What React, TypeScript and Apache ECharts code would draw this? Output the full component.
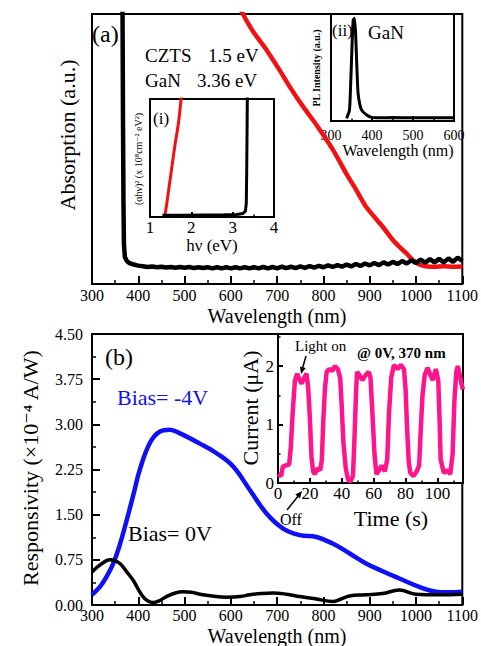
import React, { useEffect, useRef } from "react";
import * as echarts from "echarts";

// ---------- data ----------
// (a) absorption, wavelength (nm) vs absorption (a.u., 0-100 scale)
const ganAbs: number[][] = [
  [364, 110], [366, 100], [367, 60], [368, 30], [369, 15], [371, 10], [375, 8.6], [380, 7.8], [390, 7.2], [400, 6.8],
  [410, 6.6], [420, 6.3], [430, 6.5], [440, 6.2], [450, 6.4], [460, 6.1], [470, 6.3], [480, 6.0], [490, 6.3], [500, 6.0],
  [510, 6.3], [520, 5.9], [530, 6.2], [540, 5.9], [550, 6.2], [560, 5.8], [570, 6.2], [580, 5.8], [590, 6.2], [600, 5.8],
  [610, 6.2], [620, 5.8], [630, 6.2], [640, 5.8], [650, 6.2], [660, 5.8], [670, 6.3], [680, 5.8], [690, 6.3], [700, 5.8],
  [710, 6.4], [720, 5.9], [730, 6.4], [740, 5.9], [750, 6.5], [760, 6.0], [770, 6.6], [780, 6.1], [790, 6.7], [800, 6.2],
  [810, 6.9], [820, 6.3], [830, 7.0], [840, 6.4], [850, 7.2], [860, 6.5], [870, 7.4], [880, 6.7], [890, 7.6], [900, 6.9],
  [910, 7.8], [920, 7.0], [930, 8.0], [940, 7.2], [950, 8.2], [960, 7.4], [970, 8.5], [980, 7.6], [990, 8.8], [1000, 7.8],
  [1010, 9.0], [1020, 7.9], [1030, 9.2], [1040, 8.0], [1050, 9.3], [1060, 8.0], [1070, 9.5], [1080, 8.2], [1090, 9.8], [1100, 8.5],
];
const cztsAbs: number[][] = [
  [615, 104], [626, 100], [648, 93.5], [677, 86.7], [705, 79.3], [727, 73.1], [756, 65.7], [785, 58.9], [821, 49.6],
  [849, 41], [871, 34.8], [892, 28.6], [928, 21.2], [950, 16.3], [964, 13.8], [979, 11.4], [993, 8.9], [1007, 7.2],
  [1020, 6.6], [1040, 6.4], [1060, 6.6], [1080, 6.4], [1100, 6.5],
];
// inset (i) Tauc plot, hv (eV) vs (ahv)^2 (0-100 scale)
const cztsTauc: number[][] = [[1.36, 1.5], [1.40, 10], [1.44, 20], [1.52, 40], [1.60, 60], [1.69, 80], [1.75, 99], [1.77, 105]];
const ganTauc: number[][] = [
  [1.3, 1.5], [1.8, 1.5], [2.3, 1.8], [2.8, 2], [3.1, 2.2], [3.25, 3], [3.31, 5], [3.33, 12], [3.34, 40], [3.35, 80], [3.355, 105],
];
// inset (ii) PL of GaN
const ganPL: number[][] = [
  [338, 2.5], [345, 10], [348, 35], [351, 67], [354, 94], [357, 96], [360, 82], [363, 51], [366, 26], [370, 16],
  [375, 10], [387, 5.6], [399, 3.4], [420, 3], [450, 3.2], [500, 3], [550, 3], [600, 3],
];
// (b) responsivity (x1e-4 A/W)
const respBiasM4: number[][] = [
  [300, 0.17], [317, 0.30], [330, 0.45], [346, 0.69], [360, 1.0], [375, 1.41], [390, 1.85], [403, 2.24], [425, 2.69],
  [447, 2.88], [468, 2.91], [490, 2.85], [533, 2.68], [569, 2.52], [605, 2.30], [641, 1.91], [677, 1.52], [713, 1.27],
  [749, 1.16], [785, 1.13], [820, 1.02], [856, 0.86], [892, 0.69], [928, 0.56], [964, 0.44], [1007, 0.30], [1043, 0.22],
  [1070, 0.21], [1100, 0.22],
];
const respBias0: number[][] = [
  [300, 0.55], [320, 0.68], [339, 0.75], [360, 0.69], [375, 0.55], [389, 0.41], [400, 0.26], [410, 0.14], [420, 0.07],
  [432, 0.04], [445, 0.07], [461, 0.14], [480, 0.2], [497, 0.22], [515, 0.21], [533, 0.18], [560, 0.15], [590, 0.13],
  [620, 0.14], [641, 0.17], [665, 0.19], [691, 0.20], [720, 0.18], [749, 0.14], [785, 0.10], [820, 0.06], [838, 0.10],
  [856, 0.15], [890, 0.17], [928, 0.19], [964, 0.25], [1000, 0.18], [1050, 0.17], [1100, 0.18],
];
// inset current vs time (s, uA)
const currentT: number[][] = [
  [0, 0.15], [2, 0.12], [3, 0.28], [5, 0.3], [7, 0.32], [8, 0.6], [9.2, 1.2], [10.6, 1.75], [12, 1.87], [13, 1.8],
  [14.8, 1.7], [16, 1.78], [17.9, 1.87], [19, 1.6], [20, 1.1], [21, 0.45], [22, 0.2], [23, 0.15], [25, 0.25], [26.5, 0.22],
  [27.5, 0.4], [28.3, 1.0], [29.4, 1.6], [30.5, 1.9], [32, 1.95], [34, 1.92], [35.6, 2.0], [37.5, 1.95], [39, 1.8],
  [39.8, 1.4], [41, 0.7], [42.5, 0.25], [44, 0.05], [45.5, 0.03], [47, 0.12], [48, 0.8], [49, 1.6], [49.6, 1.9], [51, 1.85],
  [53, 1.76], [55, 1.85], [57, 1.9], [58, 1.8], [59, 1.3], [60.5, 0.5], [61.7, 0.15], [63, 0.2], [65, 0.3], [67, 0.2],
  [68.5, 0.4], [69.6, 1.2], [71, 1.8], [72.7, 2.02], [75, 1.95], [77, 2.02], [79, 1.95], [80, 1.6], [81, 0.9], [82, 0.35],
  [83, 0.17], [85, 0.12], [87, 0.2], [88.5, 0.3], [89.5, 0.9], [90.6, 1.5], [92, 1.85], [93.8, 1.97], [95.5, 1.85],
  [97, 1.76], [99, 1.95], [100.5, 1.75], [101.3, 1.1], [102, 0.4], [104, 0.17], [106, 0.22], [108, 0.15], [109.5, 0.5],
  [110.6, 1.4], [111.8, 1.9], [112.7, 2.0], [114, 1.85], [115, 1.7], [116, 1.6],
];

const SERIF = "'Liberation Serif', 'Times New Roman', 'DejaVu Serif', serif";

function ax(gridIndex: number, min: number, max: number, interval: number, fontSize: number, margin: number, tickLen: number, fmt: (v: number) => string, showMax = true) {
  return {
    type: "value", gridIndex, min, max, interval,
    axisLine: { show: false },
    axisTick: { show: true, inside: true, length: tickLen, lineStyle: { color: "#000", width: 2 } },
    minorTick: { show: true, splitNumber: 2, length: tickLen / 2, lineStyle: { color: "#000", width: 1.5 } },
    splitLine: { show: false },
    axisLabel: { show: true, fontFamily: SERIF, fontSize, color: "#000", margin, formatter: fmt, hideOverlap: false, showMaxLabel: showMax, showMinLabel: true },
  };
}

const intFmt = (v: number) => String(v);

function txt(text: string, x: number, y: number, fontSize: number, opts: any = {}) {
  return {
    type: "text", x, y, rotation: opts.rotation || 0, z: 100,
    style: {
      text, fontSize, fontFamily: SERIF, fontWeight: opts.fontWeight || "normal",
      fill: opts.fill || "#000",
      align: opts.align || "left", verticalAlign: "middle",
      textAlign: opts.align || "left", textVerticalAlign: "middle",
    },
  };
}

export default function App() {
  const ref = useRef<HTMLDivElement>(null);
  useEffect(() => {
    const chart = echarts.init(ref.current!, null, { renderer: "svg" });
    const gridBase = { show: true, borderColor: "#000", borderWidth: 2, containLabel: false };
    const hiddenY = (gridIndex: number) => ({ type: "value", gridIndex, min: 0, max: 100, axisLine: { show: false }, axisTick: { show: false }, axisLabel: { show: false }, splitLine: { show: false } });
    const option: any = {
      animation: false,
      backgroundColor: "#fff",
      textStyle: { fontFamily: SERIF },
      grid: [
        { ...gridBase, left: 92, top: 14, width: 371, height: 270, backgroundColor: "transparent" },
        { ...gridBase, left: 150, top: 99, width: 124, height: 118, backgroundColor: "#fff" },
        { ...gridBase, left: 331, top: 14, width: 123, height: 107, backgroundColor: "#fff" },
        { ...gridBase, left: 92, top: 334, width: 371, height: 271, backgroundColor: "transparent" },
        { ...gridBase, left: 278, top: 334, width: 185, height: 149, backgroundColor: "#fff" },
      ],
      xAxis: [
        ax(0, 300, 1100, 100, 16, 3, 8, intFmt),
        ax(1, 1, 4, 1, 17, 2, 5, intFmt),
        ax(2, 300, 600, 100, 14, 7, 5, intFmt),
        ax(3, 300, 1100, 100, 16, 2, 8, intFmt),
        ax(4, 0, 116, 20, 17, 2, 5, intFmt, false),
      ],
      yAxis: [
        hiddenY(0),
        hiddenY(1),
        hiddenY(2),
        ax(3, 0, 4.5, 0.75, 16, 9, 8, (v: number) => v.toFixed(2)),
        ax(4, 0, 2.55, 1, 17, 4, 5, intFmt, false),
      ],
      series: [
        { type: "line", xAxisIndex: 0, yAxisIndex: 0, data: cztsAbs, showSymbol: false, smooth: 0.2, lineStyle: { color: "#f21010", width: 4.5 }, z: 3 },
        { type: "line", xAxisIndex: 0, yAxisIndex: 0, data: ganAbs, showSymbol: false, lineStyle: { color: "#000", width: 4.5 }, z: 4 },
        { type: "line", xAxisIndex: 1, yAxisIndex: 1, data: cztsTauc, showSymbol: false, smooth: 0.3, lineStyle: { color: "#f21010", width: 3 } },
        { type: "line", xAxisIndex: 1, yAxisIndex: 1, data: ganTauc, showSymbol: false, lineStyle: { color: "#000", width: 3 } },
        { type: "line", xAxisIndex: 2, yAxisIndex: 2, data: ganPL, showSymbol: false, smooth: 0.2, lineStyle: { color: "#000", width: 3 } },
        { type: "line", xAxisIndex: 3, yAxisIndex: 3, data: respBiasM4, showSymbol: false, smooth: 0.4, lineStyle: { color: "#1010f5", width: 4.5 } },
        { type: "line", xAxisIndex: 3, yAxisIndex: 3, data: respBias0, showSymbol: false, smooth: 0.4, lineStyle: { color: "#000", width: 3.5 } },
        { type: "line", xAxisIndex: 4, yAxisIndex: 4, data: currentT, showSymbol: false, lineStyle: { color: "#ff148c", width: 4.5 } },
      ],
      graphic: [
        txt("(a)", 92, 34, 24),
        txt("CZTS", 145, 55, 19),
        txt("1.5 eV", 208, 55, 19),
        txt("GaN", 145, 80, 19),
        txt("3.36 eV", 197, 80, 19),
        txt("(i)", 153, 118, 17),
        txt("(ii)", 332, 30, 17),
        txt("GaN", 368, 32, 19),
        txt("Absorption (a.u.)", 67, 135, 22, { rotation: Math.PI / 2, align: "center" }),
        txt("Wavelength (nm)", 277, 316, 20, { align: "center" }),
        txt("hν (eV)", 212, 245, 17, { align: "center" }),
        txt("(αhν)² (x 10⁸cm⁻² eV²)", 138, 159, 10, { rotation: Math.PI / 2, align: "center" }),
        txt("Wavelength (nm)", 398, 150, 16, { align: "center" }),
        txt("PL Intensity (a.u.)", 316, 68, 10, { rotation: Math.PI / 2, align: "center", fontWeight: "bold" }),
        txt("(b)", 105, 357, 24),
        txt("Bias= -4V", 117, 397, 22, { fill: "#1010f5" }),
        txt("Bias= 0V", 128, 533, 22),
        txt("Responsivity (×10⁻⁴ A/W)", 30, 468, 22, { rotation: Math.PI / 2, align: "center" }),
        txt("Wavelength (nm)", 277, 635.5, 20, { align: "center" }),
        txt("Current (μA)", 250, 408, 22, { rotation: Math.PI / 2, align: "center" }),
        txt("Time (s)", 391, 518, 22, { align: "center" }),
        txt("Light on", 295, 346, 15),
        txt("@ 0V, 370 nm", 357, 353, 15, { fontWeight: "bold" }),
        txt("Off", 280, 519, 16),
        { type: "line", z: 100, shape: { x1: 306, y1: 356, x2: 302, y2: 370 }, style: { stroke: "#000", lineWidth: 1.5 } },
        { type: "polygon", z: 100, shape: { points: [[301, 374], [305.8, 368.1], [300.0, 366.5]] }, style: { fill: "#000" } },
        { type: "line", z: 100, shape: { x1: 287, y1: 510, x2: 299, y2: 495 }, style: { stroke: "#000", lineWidth: 1.5 } },
        { type: "polygon", z: 100, shape: { points: [[302, 491], [300.0, 498.4], [295.3, 494.6]] }, style: { fill: "#000" } },
      ],
    };
    chart.setOption(option);
    return () => chart.dispose();
  }, []);
  return <div ref={ref} style={{ position: "absolute", left: 0, top: 0, width: 481, height: 646 }} />;
}
